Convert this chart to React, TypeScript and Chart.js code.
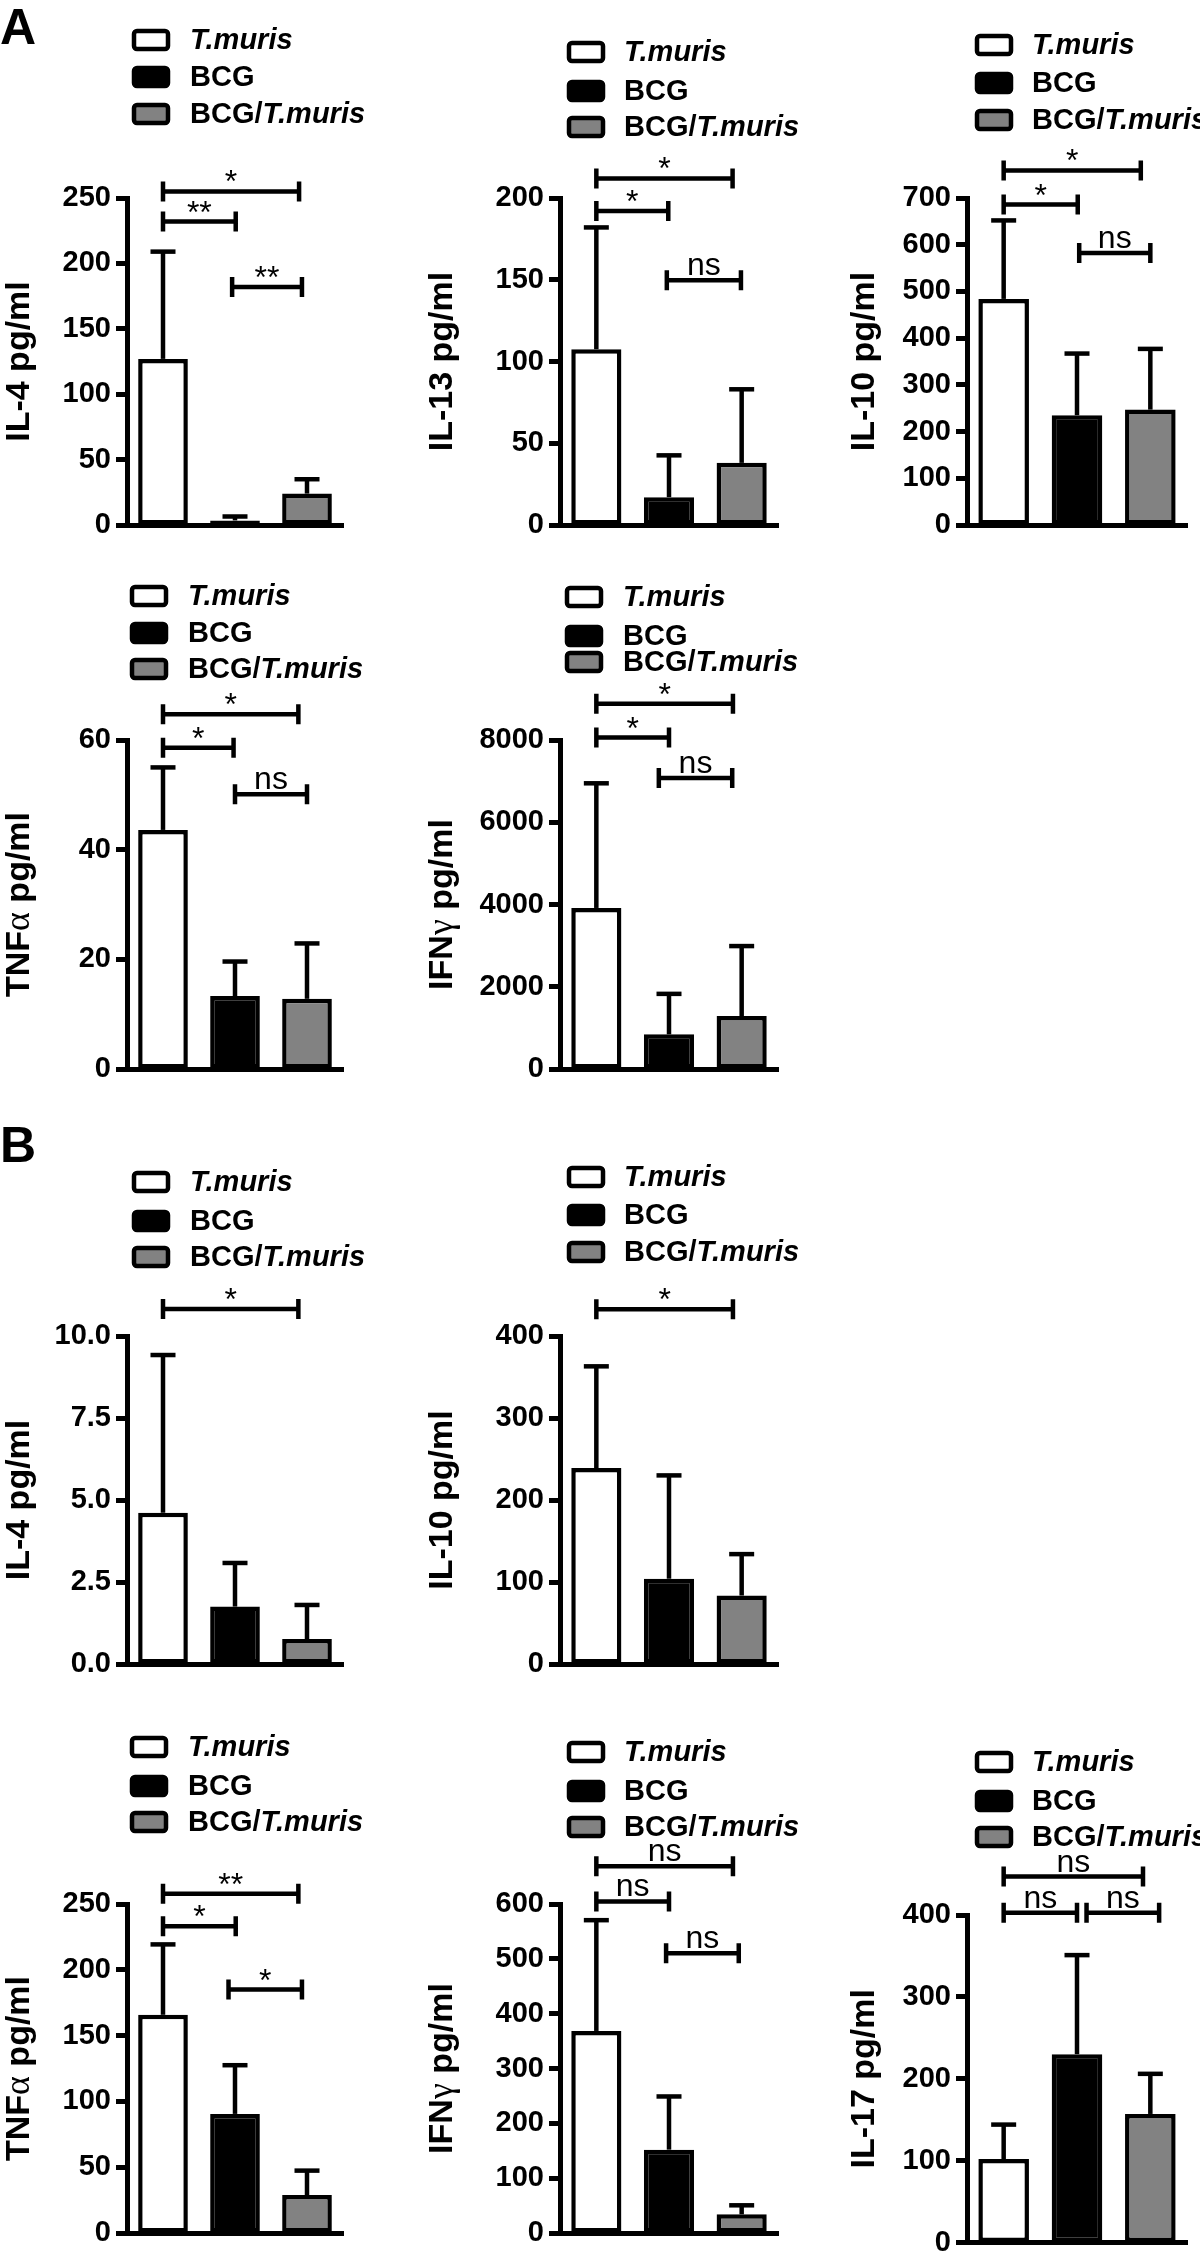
import React, { useEffect, useRef } from "react";
import { Chart, registerables } from "chart.js";

Chart.register(...registerables);

const SANS = "'Liberation Sans', Arial, Helvetica, sans-serif";
const SERIF = "'Liberation Serif', 'Times New Roman', serif";

// ---------------- data ----------------
const groups = ["T.muris", "BCG", "BCG/T.muris"];
const groupColors = ["#ffffff", "#000000", "#828282"];

// Panel A (mean and upper end of error bar = mean + SD)
const aIL4Mean = [127, 3.5, 24];
const aIL4Upper = [209, 6.5, 35];
const aIL13Mean = [107.5, 17, 38];
const aIL13Upper = [182, 42.6, 83];
const aIL10Mean = [484, 235, 247];
const aIL10Upper = [652, 367, 377];
const aTNFMean = [43.6, 13.3, 12.8];
const aTNFUpper = [55, 19.6, 22.9];
const aIFNMean = [3916, 842, 1288];
const aIFNUpper = [6947, 1827, 2989];

// Panel B
const bIL4Mean = [4.61, 1.75, 0.76];
const bIL4Upper = [9.42, 3.08, 1.8];
const bIL10Mean = [239, 104, 83.5];
const bIL10Upper = [363, 230, 134];
const bTNFMean = [165.8, 90.5, 28.8];
const bTNFUpper = [219.3, 127.5, 47.4];
const bIFNMean = [368.5, 152, 34];
const bIFNUpper = [570.5, 249, 50.5];
const bIL17Mean = [102, 230, 157];
const bIL17Upper = [144, 351, 206];

// y-axis maxima and tick steps
const aIL4Ticks = [250, 50];
const aIL13Ticks = [200, 50];
const aIL10Ticks = [700, 100];
const aTNFTicks = [60, 20];
const aIFNTicks = [8000, 2000];
const bIL4Ticks = [10, 2.5];
const bIL10Ticks = [400, 100];
const bTNFTicks = [250, 50];
const bIFNTicks = [600, 100];
const bIL17Ticks = [400, 100];

// significance brackets: [from group index, to group index, y value, label]
const aIL4Sig = [[0, 1.89, 255, "*"], [0, 1.01, 232, "**"], [0.96, 1.93, 182, "**"]];
const aIL13Sig = [[0, 1.875, 212, "*"], [0, 0.99, 192, "*"], [0.97, 1.99, 149.7, "ns"]];
const aIL10Sig = [[0, 1.87, 759, "*"], [0, 1.01, 686, "*"], [1.03, 2.0, 582, "ns"]];
const aTNFSig = [[0, 1.88, 64.7, "*"], [0, 0.98, 58.6, "*"], [1.0, 2.0, 50.1, "ns"]];
const aIFNSig = [[0, 1.88, 8884, "*"], [0, 1.0, 8059, "*"], [0.86, 1.87, 7074, "ns"]];
const bIL4Sig = [[0, 1.88, 10.82, "*"]];
const bIL10Sig = [[0, 1.88, 432.6, "*"]];
const bTNFSig = [[0, 1.88, 257.7, "**"], [0, 1.01, 233, "*"], [0.91, 1.93, 185, "*"]];
const bIFNSig = [[0, 1.88, 669, "ns"], [0, 1.0, 604.6, "ns"], [0.96, 1.96, 510, "ns"]];
const bIL17Sig = [[0, 1.9, 447, "ns"], [0, 1.0, 402.6, "ns"], [1.13, 2.12, 402.6, "ns"]];

// axis titles (segments: text, kind)
const tIL4 = [["IL-4 pg/ml", "b"]];
const tIL13 = [["IL-13 pg/ml", "b"]];
const tIL10 = [["IL-10 pg/ml", "b"]];
const tIL17 = [["IL-17 pg/ml", "b"]];
const tTNF = [["TNF", "b"], ["\u03b1", "g"], [" pg/ml", "b"]];
const tIFN = [["IFN", "b"], ["\u03b3", "g"], [" pg/ml", "b"]];

// ---------------- layout ----------------
const panels = [
  { key: "a1", cell: [0, 0, 400, 560], plot: [127, 343, 198, 525], titleX: 17, legend: [132, 190, 40, 77, 114], title: tIL4, mean: aIL4Mean, upper: aIL4Upper, ticks: aIL4Ticks, dec: 0, sig: aIL4Sig, letter: ["A", 0, 44] },
  { key: "a2", cell: [400, 0, 400, 560], plot: [560, 778, 198, 525], titleX: 440, legend: [567, 624, 52, 91, 127], title: tIL13, mean: aIL13Mean, upper: aIL13Upper, ticks: aIL13Ticks, dec: 0, sig: aIL13Sig },
  { key: "a3", cell: [800, 0, 400, 560], plot: [967, 1187, 198, 525], titleX: 862, legend: [975, 1032, 45, 83, 120], title: tIL10, mean: aIL10Mean, upper: aIL10Upper, ticks: aIL10Ticks, dec: 0, sig: aIL10Sig },
  { key: "a4", cell: [0, 560, 400, 540], plot: [127, 343, 740, 1069], titleX: 17, legend: [130, 188, 596, 633, 669], title: tTNF, mean: aTNFMean, upper: aTNFUpper, ticks: aTNFTicks, dec: 0, sig: aTNFSig },
  { key: "a5", cell: [400, 560, 400, 540], plot: [560, 778, 740, 1069], titleX: 440, legend: [565, 623, 597, 636, 662], title: tIFN, mean: aIFNMean, upper: aIFNUpper, ticks: aIFNTicks, dec: 0, sig: aIFNSig },
  { key: "b1", cell: [0, 1100, 400, 590], plot: [127, 343, 1336, 1664], titleX: 17, legend: [132, 190, 1182, 1221, 1257], title: tIL4, mean: bIL4Mean, upper: bIL4Upper, ticks: bIL4Ticks, dec: 1, sig: bIL4Sig, letter: ["B", 0, 1162] },
  { key: "b2", cell: [400, 1100, 400, 590], plot: [560, 778, 1336, 1664], titleX: 440, legend: [567, 624, 1177, 1215, 1252], title: tIL10, mean: bIL10Mean, upper: bIL10Upper, ticks: bIL10Ticks, dec: 0, sig: bIL10Sig },
  { key: "b3", cell: [0, 1690, 400, 572], plot: [127, 343, 1904, 2233], titleX: 17, legend: [130, 188, 1747, 1786, 1822], title: tTNF, mean: bTNFMean, upper: bTNFUpper, ticks: bTNFTicks, dec: 0, sig: bTNFSig },
  { key: "b4", cell: [400, 1690, 400, 572], plot: [560, 778, 1904, 2233], titleX: 440, legend: [567, 624, 1752, 1791, 1827], title: tIFN, mean: bIFNMean, upper: bIFNUpper, ticks: bIFNTicks, dec: 0, sig: bIFNSig },
  { key: "b5", cell: [800, 1690, 400, 572], plot: [967, 1187, 1915, 2244], titleX: 862, legend: [975, 1032, 1762, 1801, 1837], title: tIL17, mean: bIL17Mean, upper: bIL17Upper, ticks: bIL17Ticks, dec: 0, sig: bIL17Sig },
];

const TITLE_SIZE = 34;

function segFont(kind: string) {
  return kind === "g" ? `normal 36px ${SERIF}` : `bold ${TITLE_SIZE}px ${SANS}`;
}

function Panel({ spec }: { spec: any }) {
  const ref = useRef<HTMLCanvasElement | null>(null);
  useEffect(() => {
    const canvas = ref.current;
    if (!canvas) return;
    const [cx, cy, cw, ch] = spec.cell;
    const [pl, pr, pt, pb] = spec.plot;

    const overlay = {
      id: "overlay" + spec.key,
      afterDatasetsDraw(chart: any) {
        const ctx = chart.ctx;
        const xs = chart.scales.x;
        const ys = chart.scales.y;
        const meta = chart.getDatasetMeta(0);
        ctx.save();
        ctx.strokeStyle = "#000";
        ctx.lineWidth = 4.5;
        ctx.lineCap = "butt";
        // error bars (upper only)
        meta.data.forEach((bar: any, i: number) => {
          const x = bar.x;
          const yTop = bar.y;
          const yErr = ys.getPixelForValue(spec.upper[i]);
          ctx.beginPath();
          ctx.moveTo(x, yTop);
          ctx.lineTo(x, yErr);
          ctx.stroke();
          ctx.beginPath();
          ctx.moveTo(x - 12.5, yErr);
          ctx.lineTo(x + 12.5, yErr);
          ctx.stroke();
        });
        // significance brackets
        spec.sig.forEach((s: any) => {
          const [a, b, v, label] = s;
          const x1 = xs.getPixelForValue(a);
          const x2 = xs.getPixelForValue(b);
          const y = ys.getPixelForValue(v);
          ctx.lineWidth = 4.5;
          ctx.beginPath();
          ctx.moveTo(x1, y);
          ctx.lineTo(x2, y);
          ctx.moveTo(x1, y - 10);
          ctx.lineTo(x1, y + 10);
          ctx.moveTo(x2, y - 10);
          ctx.lineTo(x2, y + 10);
          ctx.stroke();
          ctx.font = `normal 32px ${SANS}`;
          ctx.fillStyle = "#000";
          ctx.textAlign = "center";
          ctx.textBaseline = "alphabetic";
          const m = ctx.measureText(label);
          const desc = m.actualBoundingBoxDescent || 0;
          const gap = label === "ns" ? 5 : 9;
          ctx.fillText(label, (x1 + x2) / 2, y - gap - desc);
        });
        ctx.restore();
      },
      afterDraw(chart: any) {
        const ctx = chart.ctx;
        const area = chart.chartArea;
        ctx.save();
        // legend
        const [boxX, textX, r0, r1, r2] = spec.legend;
        const rows = [r0, r1, r2];
        rows.forEach((ry: number, i: number) => {
          const y = ry - cy;
          const bx = boxX - cx;
          ctx.beginPath();
          if (ctx.roundRect) ctx.roundRect(bx + 2, y - 9, 34, 18, 3);
          else ctx.rect(bx + 2, y - 9, 34, 18);
          ctx.fillStyle = groupColors[i];
          ctx.fill();
          ctx.lineWidth = 4.5;
          ctx.strokeStyle = "#000";
          ctx.stroke();
          ctx.fillStyle = "#000";
          ctx.textAlign = "left";
          ctx.textBaseline = "middle";
          let tx = textX - cx;
          const parts = i === 0 ? [["T.muris", true]] : i === 1 ? [["BCG", false]] : [["BCG/", false], ["T.muris", true]];
          parts.forEach((p: any) => {
            ctx.font = `${p[1] ? "italic " : ""}bold 29px ${SANS}`;
            ctx.fillText(p[0], tx, y + 1);
            tx += ctx.measureText(p[0]).width;
          });
        });
        // axis title
        const midY = (area.top + area.bottom) / 2;
        let total = 0;
        spec.title.forEach((s: any) => {
          ctx.font = segFont(s[1]);
          total += ctx.measureText(s[0]).width;
        });
        ctx.translate(spec.titleX - cx + 0.358 * TITLE_SIZE, midY);
        ctx.rotate(-Math.PI / 2);
        ctx.textAlign = "left";
        ctx.textBaseline = "alphabetic";
        ctx.fillStyle = "#000";
        let px = -total / 2;
        spec.title.forEach((s: any) => {
          ctx.font = segFont(s[1]);
          ctx.fillText(s[0], px, 0);
          px += ctx.measureText(s[0]).width;
        });
        ctx.restore();
        // panel letter
        if (spec.letter) {
          ctx.save();
          ctx.font = `bold 50px ${SANS}`;
          ctx.fillStyle = "#000";
          ctx.textAlign = "left";
          ctx.textBaseline = "alphabetic";
          ctx.fillText(spec.letter[0], spec.letter[1] - cx, spec.letter[2] - cy);
          ctx.restore();
        }
      },
    };

    const chart = new Chart(canvas, {
      type: "bar",
      data: {
        labels: groups,
        datasets: [
          {
            data: spec.mean,
            backgroundColor: groupColors,
            borderColor: "#000",
            borderWidth: 4.5,
            borderSkipped: false,
            barPercentage: 0.69,
            categoryPercentage: 1,
          },
        ],
      },
      options: {
        responsive: false,
        animation: false,
        devicePixelRatio: 1,
        layout: { padding: { left: 0, top: pt - cy, right: cx + cw - pr, bottom: cy + ch - pb } },
        plugins: { legend: { display: false }, tooltip: { enabled: false } },
        scales: {
          x: {
            ticks: { display: false },
            grid: { display: false, drawTicks: false },
            border: { display: true, color: "#000", width: 5 },
            afterFit: (s: any) => {
              s.height = 0;
            },
          },
          y: {
            min: 0,
            max: spec.ticks[0],
            ticks: {
              stepSize: spec.ticks[1],
              color: "#000",
              padding: 5,
              font: { family: SANS, size: 29, weight: "bold", lineHeight: 1 },
              callback: (v: any) => Number(v).toFixed(spec.dec),
            },
            grid: {
              display: true,
              drawOnChartArea: false,
              drawTicks: true,
              tickLength: 11,
              tickWidth: 5,
              tickColor: "#000",
              color: "#000",
            },
            border: { display: true, color: "#000", width: 5 },
            afterFit: (s: any) => {
              s.width = pl - cx;
            },
          },
        },
      },
      plugins: [overlay],
    } as any);
    return () => chart.destroy();
  }, [spec]);
  const [cx, cy, cw, ch] = spec.cell;
  return (
    <canvas
      ref={ref}
      width={cw}
      height={ch}
      style={{ position: "absolute", left: cx, top: cy, width: cw, height: ch }}
    />
  );
}

export default function App() {
  return (
    <div style={{ position: "absolute", left: 0, top: 0, width: 1200, height: 2262, background: "#fff", overflow: "hidden" }}>
      {panels.map((p) => (
        <Panel key={p.key} spec={p} />
      ))}
    </div>
  );
}
